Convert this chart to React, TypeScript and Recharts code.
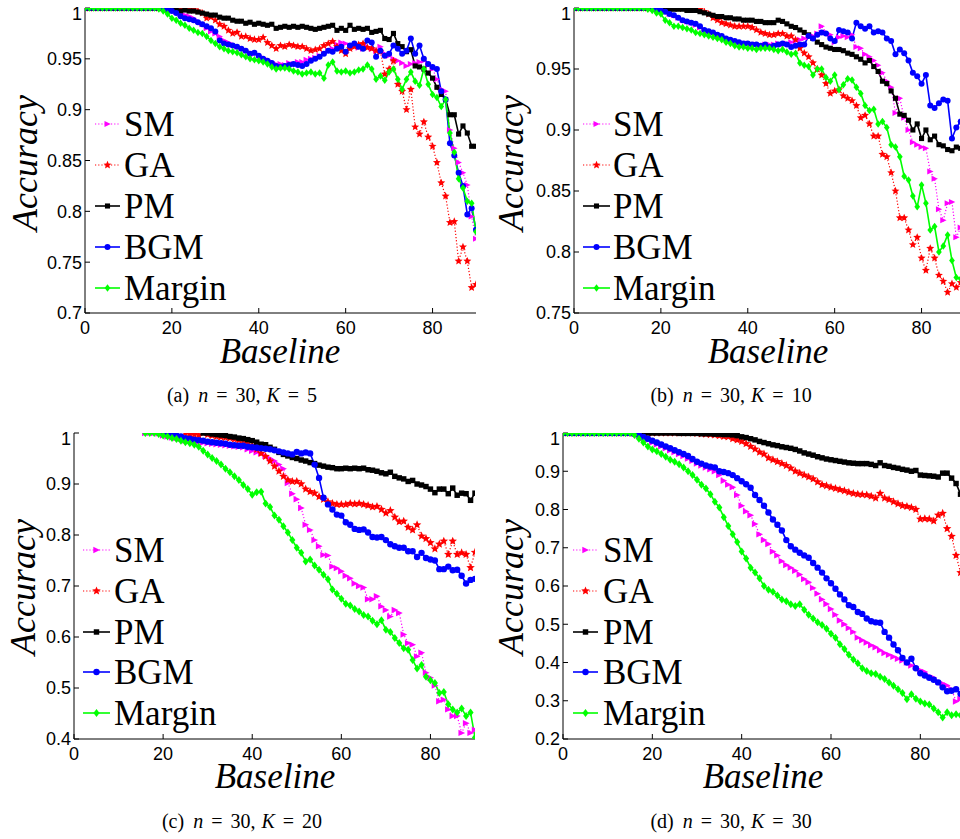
import { LineChart, Line, XAxis, YAxis } from "recharts";

// baseline index 0..90 (one sample per unit)
const BASELINE = Array.from({ length: 91 }, (_, i) => i);
const X_TICKS = [0, 20, 40, 60, 80];

// ---------- (a) n = 30, K = 5 ----------
const SM_A = [
  1, 1, 1, 1, 1, 1, 1, 1, 1, 1,
  1, 1, 1, 1, 1, 1, 1, 1, 1, 0.999,
  0.997, 0.996, 0.994, 0.993, 0.992, 0.99, 0.987, 0.984, 0.98, 0.977,
  0.975, 0.972, 0.968, 0.966, 0.964, 0.962, 0.96, 0.958, 0.956, 0.955,
  0.953, 0.951, 0.949, 0.947, 0.945, 0.945, 0.944, 0.946, 0.945, 0.947,
  0.947, 0.949, 0.95, 0.951, 0.953, 0.955, 0.958, 0.96, 0.964, 0.966,
  0.965, 0.963, 0.962, 0.961, 0.96, 0.962, 0.96, 0.958, 0.962, 0.955,
  0.953, 0.95, 0.948, 0.946, 0.943, 0.945, 0.946, 0.947, 0.948, 0.944,
  0.94, 0.93, 0.92, 0.918, 0.88, 0.862, 0.848, 0.838, 0.826, 0.795,
  0.773,
];
const GA_A = [
  1, 1, 1, 1, 1, 1, 1, 1, 1, 1,
  1, 1, 1, 1, 1, 1, 1, 1, 1, 1,
  1, 1, 1, 0.999, 0.999, 0.999, 0.997, 0.995, 0.99, 0.991,
  0.988, 0.984, 0.982, 0.978, 0.975, 0.976, 0.972, 0.972, 0.97, 0.969,
  0.969, 0.971, 0.966, 0.963, 0.96, 0.963, 0.962, 0.964, 0.963, 0.962,
  0.962, 0.96, 0.958, 0.959, 0.96, 0.963, 0.965, 0.967, 0.962, 0.958,
  0.955, 0.96, 0.962, 0.964, 0.965, 0.961, 0.96, 0.958, 0.957, 0.935,
  0.94, 0.948, 0.925, 0.918, 0.9, 0.92, 0.883, 0.876, 0.888, 0.873,
  0.864, 0.848, 0.828, 0.815, 0.789, 0.79, 0.751, 0.765, 0.751, 0.725,
  0.728,
];
const PM_A = [
  1, 1, 1, 1, 1, 1, 1, 1, 1, 1,
  1, 1, 1, 1, 1, 1, 1, 1, 1, 0.999,
  0.998, 0.998, 0.997, 0.998, 0.997, 0.997, 0.996, 0.995, 0.994, 0.993,
  0.993, 0.991, 0.99, 0.99, 0.988, 0.987, 0.987, 0.985, 0.986, 0.984,
  0.985, 0.984, 0.983, 0.984, 0.98, 0.981, 0.982, 0.981, 0.982, 0.981,
  0.982, 0.981, 0.98, 0.979, 0.98, 0.981, 0.982, 0.983, 0.978, 0.98,
  0.978, 0.983, 0.979, 0.98, 0.979, 0.98, 0.976, 0.977, 0.978, 0.97,
  0.969, 0.975, 0.965, 0.962, 0.957, 0.959, 0.943, 0.942, 0.94, 0.936,
  0.931, 0.922, 0.915, 0.91, 0.895, 0.895, 0.876, 0.884, 0.877, 0.864,
  0.864,
];
const BGM_A = [
  1, 1, 1, 1, 1, 1, 1, 1, 1, 1,
  1, 1, 1, 1, 1, 1, 1, 1, 1, 0.999,
  0.997, 0.995, 0.992, 0.99, 0.989, 0.988, 0.986, 0.984, 0.982, 0.98,
  0.977, 0.968, 0.965, 0.964, 0.963, 0.962, 0.96, 0.958, 0.955, 0.956,
  0.953, 0.95, 0.948, 0.946, 0.943, 0.942, 0.943, 0.944, 0.945, 0.944,
  0.943, 0.945, 0.948, 0.95, 0.952, 0.955, 0.958, 0.957, 0.96, 0.962,
  0.957, 0.963, 0.965, 0.962, 0.96, 0.968, 0.966, 0.952, 0.958, 0.953,
  0.955, 0.963, 0.96, 0.955, 0.958, 0.97, 0.955, 0.963, 0.95, 0.945,
  0.942, 0.94, 0.918, 0.91, 0.867, 0.855, 0.838, 0.825, 0.797, 0.803,
  0.782,
];
const MARGIN_A = [
  1, 1, 1, 1, 1, 1, 1, 1, 1, 1,
  1, 1, 1, 1, 1, 1, 1, 0.999, 0.997, 0.994,
  0.99, 0.988, 0.985, 0.983, 0.98, 0.978, 0.976, 0.975, 0.972, 0.968,
  0.965, 0.962, 0.96, 0.958, 0.957, 0.956, 0.954, 0.952, 0.95, 0.949,
  0.948, 0.947, 0.945, 0.942, 0.94, 0.941, 0.941, 0.94, 0.938, 0.937,
  0.935, 0.936, 0.937, 0.935, 0.936, 0.931, 0.944, 0.947, 0.938, 0.937,
  0.938, 0.936, 0.937, 0.939, 0.94, 0.944, 0.94, 0.93, 0.933, 0.929,
  0.937, 0.94, 0.93, 0.92, 0.93, 0.937, 0.928, 0.924, 0.94, 0.925,
  0.915, 0.912, 0.903, 0.91, 0.877, 0.858, 0.832, 0.823, 0.81, 0.808,
  0.78,
];

// ---------- (b) n = 30, K = 10 ----------
const SM_B = [
  1, 1, 1, 1, 1, 1, 1, 1, 1, 1,
  1, 1, 1, 1, 1, 1, 1, 1, 1, 0.999,
  0.998, 0.997, 0.995, 0.994, 0.992, 0.99, 0.989, 0.988, 0.986, 0.984,
  0.982, 0.981, 0.98, 0.978, 0.977, 0.975, 0.974, 0.973, 0.972, 0.971,
  0.971, 0.97, 0.97, 0.969, 0.97, 0.97, 0.97, 0.971, 0.97, 0.971,
  0.972, 0.973, 0.974, 0.975, 0.976, 0.977, 0.979, 0.985, 0.98, 0.978,
  0.972, 0.976, 0.977, 0.976, 0.978, 0.968, 0.967, 0.962, 0.96, 0.957,
  0.953, 0.947, 0.94, 0.935, 0.914, 0.926, 0.91, 0.9, 0.89, 0.888,
  0.886, 0.885, 0.866, 0.86, 0.835, 0.826, 0.84, 0.841, 0.812, 0.82,
  0.822,
];
const GA_B = [
  1, 1, 1, 1, 1, 1, 1, 1, 1, 1,
  1, 1, 1, 1, 1, 1, 1, 1, 1, 1,
  1, 1, 1, 1, 1, 1, 1, 1, 1, 0.999,
  0.997, 0.995, 0.992, 0.99, 0.988, 0.987, 0.986, 0.985, 0.985, 0.985,
  0.985, 0.984, 0.982, 0.98, 0.979, 0.978, 0.978, 0.979, 0.979, 0.977,
  0.977, 0.974, 0.967, 0.963, 0.96, 0.955, 0.95, 0.945, 0.938, 0.93,
  0.932, 0.933, 0.928, 0.926, 0.924, 0.92, 0.91, 0.912, 0.905, 0.895,
  0.895, 0.88, 0.878, 0.865, 0.85, 0.828, 0.828, 0.818, 0.806, 0.812,
  0.795, 0.785, 0.803, 0.795, 0.781, 0.776, 0.767, 0.774, 0.771, 0.775,
  0.772,
];
const PM_B = [
  1, 1, 1, 1, 1, 1, 1, 1, 1, 1,
  1, 1, 1, 1, 1, 1, 1, 1, 1, 1,
  0.999, 0.999, 0.999, 0.999, 0.999, 0.999, 0.998, 0.998, 0.998, 0.997,
  0.996, 0.995, 0.994, 0.993, 0.993, 0.992, 0.992, 0.991, 0.991, 0.99,
  0.99, 0.99, 0.989, 0.989, 0.988, 0.988, 0.988, 0.99, 0.989, 0.987,
  0.985, 0.984, 0.982, 0.98, 0.978, 0.975, 0.972, 0.97, 0.968, 0.967,
  0.966, 0.966, 0.965, 0.963, 0.962, 0.96, 0.958, 0.955, 0.957, 0.952,
  0.948, 0.94, 0.938, 0.932, 0.926, 0.913, 0.912, 0.908, 0.9, 0.905,
  0.893, 0.9, 0.892, 0.895, 0.888, 0.887, 0.884, 0.883, 0.886, 0.885,
  0.886,
];
const BGM_B = [
  1, 1, 1, 1, 1, 1, 1, 1, 1, 1,
  1, 1, 1, 1, 1, 1, 1, 1, 1, 0.999,
  0.998, 0.997, 0.995, 0.994, 0.992, 0.99, 0.989, 0.988, 0.987, 0.985,
  0.982, 0.981, 0.98, 0.978, 0.977, 0.975, 0.974, 0.973, 0.972, 0.971,
  0.971, 0.97, 0.97, 0.969, 0.97, 0.968, 0.969, 0.97, 0.971, 0.97,
  0.968, 0.969, 0.97, 0.97, 0.977, 0.975, 0.978, 0.98, 0.979, 0.975,
  0.973, 0.982, 0.981, 0.98, 0.975, 0.988, 0.985, 0.983, 0.985, 0.98,
  0.981, 0.98, 0.975, 0.973, 0.962, 0.966, 0.963, 0.957, 0.947, 0.944,
  0.938, 0.945, 0.92, 0.918, 0.922, 0.925, 0.924, 0.893, 0.902, 0.907,
  0.91,
];
const MARGIN_B = [
  1, 1, 1, 1, 1, 1, 1, 1, 1, 1,
  1, 1, 1, 1, 1, 1, 1, 0.999, 0.998, 0.996,
  0.995, 0.99, 0.988, 0.985, 0.985, 0.984, 0.983, 0.982, 0.98, 0.979,
  0.978, 0.977, 0.976, 0.975, 0.974, 0.972, 0.971, 0.969, 0.968, 0.968,
  0.967, 0.967, 0.966, 0.967, 0.967, 0.967, 0.966, 0.965, 0.966, 0.964,
  0.962, 0.963, 0.955, 0.953, 0.952, 0.945, 0.95, 0.95, 0.943, 0.94,
  0.945, 0.933, 0.937, 0.942, 0.941, 0.935, 0.93, 0.92, 0.916, 0.917,
  0.905, 0.907, 0.902, 0.888, 0.886, 0.878, 0.862, 0.859, 0.846, 0.837,
  0.855, 0.84, 0.818, 0.821, 0.8, 0.805, 0.814, 0.793, 0.779, 0.778,
  0.778,
];

// ---------- (c) n = 30, K = 20 ----------
const SM_C = [
  null, null, null, null, null, null, null, null, null, null,
  null, null, null, null, null, null, 1, 1, 1, 0.999,
  0.995, 0.993, 0.991, 0.99, 0.988, 0.985, 0.984, 0.983, 0.982, 0.981,
  0.98, 0.979, 0.978, 0.977, 0.976, 0.975, 0.974, 0.973, 0.972, 0.968,
  0.965, 0.962, 0.96, 0.955, 0.95, 0.945, 0.938, 0.93, 0.902, 0.881,
  0.87, 0.853, 0.82, 0.81, 0.79, 0.778, 0.761, 0.76, 0.738, 0.735,
  0.729, 0.72, 0.715, 0.705, 0.7, 0.697, 0.674, 0.674, 0.68, 0.66,
  0.653, 0.64, 0.653, 0.647, 0.605, 0.588, 0.585, 0.562, 0.569, 0.53,
  0.52, 0.505, 0.474, 0.477, 0.458, 0.445, 0.445, 0.412, 0.431, 0.412,
  0.418,
];
const GA_C = [
  null, null, null, null, null, null, null, null, null, null,
  null, null, null, null, null, null, null, null, null, null,
  null, null, null, null, null, 1, 0.998, 0.997, 0.996, 1,
  0.997, 0.995, 0.993, 0.992, 0.991, 0.99, 0.988, 0.986, 0.985, 0.98,
  0.975, 0.968, 0.96, 0.954, 0.945, 0.935, 0.925, 0.915, 0.908, 0.905,
  0.905, 0.9, 0.89, 0.885, 0.882, 0.875, 0.87, 0.865, 0.862, 0.86,
  0.86, 0.86, 0.862, 0.861, 0.862, 0.86, 0.858, 0.855, 0.856, 0.85,
  0.843, 0.848, 0.835, 0.826, 0.827, 0.815, 0.81, 0.82, 0.798, 0.793,
  0.785, 0.773, 0.782, 0.788, 0.762, 0.788, 0.762, 0.765, 0.762, 0.736,
  0.766,
];
const PM_C = [
  null, null, null, null, null, null, null, null, null, null,
  null, null, null, null, null, null, null, null, null, null,
  null, null, null, null, null, null, null, null, null, 1,
  1, 0.998, 0.997, 0.996, 0.995, 0.993, 0.992, 0.99, 0.989, 0.987,
  0.985, 0.982, 0.978, 0.977, 0.972, 0.968, 0.962, 0.958, 0.955, 0.952,
  0.95, 0.947, 0.945, 0.942, 0.94, 0.937, 0.935, 0.933, 0.932, 0.93,
  0.93, 0.931, 0.93, 0.931, 0.93, 0.931, 0.928, 0.927, 0.925, 0.922,
  0.92, 0.923, 0.915, 0.912, 0.91, 0.905, 0.907, 0.9, 0.898, 0.895,
  0.89, 0.883, 0.89, 0.89, 0.881, 0.892, 0.878, 0.882, 0.881, 0.868,
  0.882,
];
const BGM_C = [
  null, null, null, null, null, null, null, null, null, null,
  null, null, null, null, null, null, null, null, null, null,
  1, 0.999, 0.997, 0.995, 0.993, 0.99, 0.989, 0.987, 0.986, 0.985,
  0.983, 0.982, 0.981, 0.98, 0.979, 0.977, 0.976, 0.975, 0.975, 0.973,
  0.972, 0.971, 0.97, 0.969, 0.968, 0.966, 0.964, 0.962, 0.96, 0.958,
  0.963, 0.96, 0.962, 0.96, 0.938, 0.912, 0.873, 0.86, 0.85, 0.84,
  0.838, 0.825, 0.82, 0.812, 0.81, 0.811, 0.805, 0.796, 0.795, 0.796,
  0.79, 0.782, 0.778, 0.775, 0.775, 0.768, 0.768, 0.757, 0.765, 0.755,
  0.752, 0.75, 0.733, 0.733, 0.738, 0.731, 0.732, 0.72, 0.705, 0.712,
  0.714,
];
const MARGIN_C = [
  null, null, null, null, null, null, null, null, null, null,
  null, null, null, null, null, null, 1, 1, 1, 0.998,
  0.995, 0.993, 0.99, 0.988, 0.985, 0.982, 0.98, 0.977, 0.973, 0.965,
  0.958, 0.951, 0.945, 0.938, 0.93, 0.923, 0.915, 0.908, 0.898, 0.89,
  0.879, 0.884, 0.885, 0.862, 0.855, 0.838, 0.83, 0.817, 0.805, 0.79,
  0.775, 0.765, 0.748, 0.752, 0.74, 0.732, 0.722, 0.713, 0.693, 0.685,
  0.675, 0.665, 0.662, 0.655, 0.65, 0.643, 0.64, 0.632, 0.625, 0.633,
  0.614, 0.61, 0.598, 0.588, 0.578, 0.575, 0.555, 0.538, 0.545, 0.522,
  0.515, 0.51, 0.49, 0.492, 0.468, 0.458, 0.452, 0.46, 0.445, 0.452,
  0.403,
];

// ---------- (d) n = 30, K = 30 ----------
const SM_D = [
  1, 1, 1, 1, 1, 1, 1, 1, 1, 1,
  1, 1, 1, 1, 1, 1, 0.998, 0.993, 0.988, 0.982,
  0.975, 0.97, 0.965, 0.96, 0.955, 0.95, 0.945, 0.94, 0.933, 0.927,
  0.92, 0.915, 0.91, 0.905, 0.9, 0.89, 0.875, 0.865, 0.858, 0.838,
  0.81, 0.795, 0.785, 0.762, 0.735, 0.72, 0.71, 0.69, 0.68, 0.665,
  0.655, 0.648, 0.64, 0.63, 0.618, 0.61, 0.595, 0.58, 0.565, 0.553,
  0.54, 0.525, 0.51, 0.5, 0.49, 0.48, 0.465, 0.458, 0.452, 0.445,
  0.44, 0.432, 0.425, 0.42, 0.415, 0.41, 0.405, 0.4, 0.392, 0.388,
  0.38, 0.375, 0.365, 0.36, 0.35, 0.345, 0.34, 0.33, 0.298, 0.305,
  0.3,
];
const GA_D = [
  1, 1, 1, 1, 1, 1, 1, 1, 1, 1,
  1, 1, 1, 1, 1, 1, 1, 1, 1, 1,
  1, 1, 1, 1, 1, 1, 1, 1, 1, 1,
  0.999, 0.998, 0.997, 0.996, 0.995, 0.993, 0.991, 0.99, 0.985, 0.982,
  0.978, 0.972, 0.965, 0.958, 0.95, 0.945, 0.935, 0.93, 0.925, 0.92,
  0.915, 0.908, 0.9, 0.895, 0.89, 0.885, 0.88, 0.872, 0.865, 0.862,
  0.858, 0.855, 0.852, 0.849, 0.845, 0.842, 0.84, 0.839, 0.838, 0.835,
  0.83, 0.842, 0.83, 0.826, 0.82, 0.815, 0.81, 0.808, 0.805, 0.8,
  0.775, 0.776, 0.775, 0.77, 0.785, 0.79, 0.75, 0.73, 0.68, 0.635,
  0.62,
];
const PM_D = [
  1, 1, 1, 1, 1, 1, 1, 1, 1, 1,
  1, 1, 1, 1, 1, 1, 1, 1, 1, 1,
  1, 1, 1, 1, 1, 1, 0.999, 0.999, 0.999, 0.999,
  0.999, 0.998, 0.998, 0.998, 0.997, 0.997, 0.996, 0.996, 0.995, 0.993,
  0.99, 0.988, 0.985, 0.982, 0.978, 0.975, 0.972, 0.969, 0.967, 0.964,
  0.962, 0.96, 0.957, 0.953, 0.948, 0.945, 0.942, 0.938, 0.935, 0.932,
  0.93, 0.928, 0.926, 0.924, 0.922, 0.921, 0.92, 0.92, 0.92, 0.918,
  0.915, 0.922, 0.915, 0.913, 0.91, 0.908, 0.905, 0.903, 0.9, 0.902,
  0.89, 0.889, 0.888, 0.887, 0.885, 0.895, 0.895, 0.882, 0.868, 0.84,
  0.81,
];
const BGM_D = [
  1, 1, 1, 1, 1, 1, 1, 1, 1, 1,
  1, 1, 1, 1, 1, 1, 0.998, 0.995, 0.99, 0.985,
  0.98, 0.975, 0.97, 0.965, 0.96, 0.955, 0.95, 0.945, 0.94, 0.932,
  0.925, 0.92, 0.915, 0.912, 0.91, 0.9, 0.898, 0.895, 0.89, 0.882,
  0.874, 0.866, 0.857, 0.838, 0.825, 0.81, 0.792, 0.774, 0.76, 0.745,
  0.72, 0.704, 0.695, 0.687, 0.68, 0.674, 0.66, 0.648, 0.635, 0.62,
  0.607, 0.593, 0.578, 0.565, 0.55, 0.545, 0.532, 0.527, 0.515, 0.508,
  0.505, 0.504, 0.48, 0.465, 0.447, 0.432, 0.412, 0.4, 0.41, 0.385,
  0.372, 0.366, 0.36, 0.355, 0.348, 0.335, 0.325, 0.326, 0.33, 0.318,
  0.31,
];
const MARGIN_D = [
  1, 1, 1, 1, 1, 1, 1, 1, 1, 1,
  1, 1, 1, 1, 1, 1, 0.995, 0.985, 0.975, 0.965,
  0.957, 0.952, 0.945, 0.938, 0.93, 0.925, 0.918, 0.91, 0.9, 0.89,
  0.878, 0.865, 0.855, 0.84, 0.82, 0.805, 0.78, 0.757, 0.735, 0.715,
  0.69, 0.672, 0.648, 0.635, 0.62, 0.6, 0.59, 0.585, 0.575, 0.565,
  0.56, 0.552, 0.548, 0.552, 0.538, 0.525, 0.515, 0.505, 0.498, 0.488,
  0.475, 0.465, 0.448, 0.435, 0.42, 0.408, 0.398, 0.385, 0.378, 0.372,
  0.37, 0.363, 0.357, 0.348, 0.339, 0.33, 0.32, 0.304, 0.317, 0.305,
  0.298, 0.293, 0.29, 0.28, 0.27, 0.256, 0.27, 0.262, 0.265, 0.262,
  0.265,
];

const Y_TICKS_A = [0.7, 0.75, 0.8, 0.85, 0.9, 0.95, 1];
const Y_TICKS_B = [0.75, 0.8, 0.85, 0.9, 0.95, 1];
const Y_TICKS_C = [0.4, 0.5, 0.6, 0.7, 0.8, 0.9, 1];
const Y_TICKS_D = [0.2, 0.3, 0.4, 0.5, 0.6, 0.7, 0.8, 0.9, 1];

const SANS = "'Liberation Sans', Arial, Helvetica, sans-serif";
const SERIF = "'Liberation Serif', 'Times New Roman', Times, serif";

type Shape = "tri" | "star" | "square" | "circle" | "diamond";

const SERIES: { key: string; color: string; shape: Shape; dotted: boolean }[] = [
  { key: "SM", color: "#FF00FF", shape: "tri", dotted: true },
  { key: "GA", color: "#FF0000", shape: "star", dotted: true },
  { key: "PM", color: "#000000", shape: "square", dotted: false },
  { key: "BGM", color: "#0000FF", shape: "circle", dotted: false },
  { key: "Margin", color: "#00FF00", shape: "diamond", dotted: false },
];

function Marker({ shape, color, cx, cy, r }: { shape: Shape; color: string; cx: number; cy: number; r: number }) {
  if (shape === "tri") {
    return <polygon points={`${cx - r},${cy - r} ${cx + r * 1.1},${cy} ${cx - r},${cy + r}`} fill={color} />;
  }
  if (shape === "square") {
    const s = r * 0.85;
    return <rect x={cx - s} y={cy - s} width={s * 2} height={s * 2} fill={color} />;
  }
  if (shape === "circle") {
    return <circle cx={cx} cy={cy} r={r} fill={color} />;
  }
  if (shape === "diamond") {
    return <polygon points={`${cx},${cy - r * 1.25} ${cx + r * 0.95},${cy} ${cx},${cy + r * 1.25} ${cx - r * 0.95},${cy}`} fill={color} />;
  }
  // five point star
  const R = r * 1.4;
  const ri = R * 0.45;
  const pts: string[] = [];
  for (let k = 0; k < 10; k++) {
    const a = -Math.PI / 2 + (k * Math.PI) / 5;
    const rr = k % 2 === 0 ? R : ri;
    pts.push(`${cx + rr * Math.cos(a)},${cy + rr * Math.sin(a)}`);
  }
  return <polygon points={pts.join(" ")} fill={color} />;
}

const makeDot = (shape: Shape, color: string, r: number) => (props: any) => {
  const { cx, cy, index } = props;
  if (cx == null || cy == null || Number.isNaN(cy) || props.value == null) {
    return <g key={`d-${index}`} />;
  }
  return (
    <g key={`d-${index}`}>
      <Marker shape={shape} color={color} cx={cx} cy={cy} r={r} />
    </g>
  );
};

type PanelCfg = {
  id: string;
  k: string;
  left: number;
  top: number;
  w: number;
  h: number;
  yMin: number;
  yTicks: number[];
  r: number;
  series: (number | null)[][];
  legend: { x1: number; x2: number; tx: number; rows: number[] };
  acc: [number, number];
  base: [number, number];
  cap: [number, number];
};

const PANELS: PanelCfg[] = [
  {
    id: "a", k: "5", left: 85, top: 8, w: 391, h: 305, yMin: 0.7, yTicks: Y_TICKS_A, r: 3,
    series: [SM_A, GA_A, PM_A, BGM_A, MARGIN_A],
    legend: { x1: 95, x2: 120, tx: 124, rows: [124, 165, 206, 247, 288] },
    acc: [37, 163], base: [280, 363], cap: [242, 402],
  },
  {
    id: "b", k: "10", left: 574, top: 8, w: 391, h: 305, yMin: 0.75, yTicks: Y_TICKS_B, r: 3,
    series: [SM_B, GA_B, PM_B, BGM_B, MARGIN_B],
    legend: { x1: 583, x2: 610, tx: 613, rows: [124, 165, 206, 247, 288] },
    acc: [523, 163], base: [768, 363], cap: [731, 402],
  },
  {
    id: "c", k: "20", left: 74, top: 433, w: 401, h: 306, yMin: 0.4, yTicks: Y_TICKS_C, r: 3.2,
    series: [SM_C, GA_C, PM_C, BGM_C, MARGIN_C],
    legend: { x1: 83, x2: 110, tx: 114, rows: [550, 591, 632, 672, 713] },
    acc: [35, 587], base: [275, 788], cap: [242, 828],
  },
  {
    id: "d", k: "30", left: 563, top: 433, w: 402, h: 306, yMin: 0.2, yTicks: Y_TICKS_D, r: 3.2,
    series: [SM_D, GA_D, PM_D, BGM_D, MARGIN_D],
    legend: { x1: 573, x2: 598, tx: 603, rows: [550, 591, 632, 672, 713] },
    acc: [523, 587], base: [763, 788], cap: [731, 828],
  },
];

const Y_AXIS_W = 60;
const X_AXIS_H = 30;
const PAD = 5;

function Panel({ cfg }: { cfg: PanelCfg }) {
  const data = BASELINE.map((x, i) => {
    const row: Record<string, number | null> = { x };
    SERIES.forEach((s, j) => {
      row[s.key] = cfg.series[j][i];
    });
    return row;
  });
  const tickStyle = { fill: "#000", fontSize: 18, fontFamily: SANS };
  return (
    <div style={{ position: "absolute", left: cfg.left - Y_AXIS_W, top: cfg.top - PAD }}>
      <LineChart
        width={Y_AXIS_W + cfg.w + PAD}
        height={PAD + cfg.h + X_AXIS_H}
        data={data}
        margin={{ top: PAD, right: PAD, bottom: 0, left: 0 }}
      >
        <XAxis
          dataKey="x"
          type="number"
          domain={[0, 90]}
          ticks={X_TICKS}
          height={X_AXIS_H}
          tickSize={-5}
          tickMargin={13}
          stroke="#000"
          tick={tickStyle}
          allowDataOverflow
        />
        <XAxis
          xAxisId="top"
          orientation="top"
          dataKey="x"
          type="number"
          domain={[0, 90]}
          ticks={X_TICKS}
          height={0}
          tickSize={-5}
          tickFormatter={() => ""}
          stroke="#000"
        />
        <YAxis
          type="number"
          domain={[cfg.yMin, 1]}
          ticks={cfg.yTicks}
          width={Y_AXIS_W}
          tickSize={-5}
          tickMargin={8}
          stroke="#000"
          tick={tickStyle}
          tickFormatter={(v: number) => String(v)}
          allowDataOverflow
        />
        <YAxis
          yAxisId="right"
          orientation="right"
          type="number"
          domain={[cfg.yMin, 1]}
          ticks={cfg.yTicks}
          width={0}
          tickSize={-5}
          tickFormatter={() => ""}
          stroke="#000"
        />
        {SERIES.map((s) => (
          <Line
            key={s.key}
            dataKey={s.key}
            type="linear"
            stroke={s.color}
            strokeWidth={s.dotted ? 1.2 : 1.6}
            strokeDasharray={s.dotted ? "1.2 2" : undefined}
            dot={makeDot(s.shape, s.color, cfg.r)}
            activeDot={false}
            connectNulls={false}
            isAnimationActive={false}
          />
        ))}
      </LineChart>
    </div>
  );
}

function Annotations({ cfg }: { cfg: PanelCfg }) {
  const { legend } = cfg;
  return (
    <g>
      {SERIES.map((s, i) => {
        const y = legend.rows[i];
        const mx = (legend.x1 + legend.x2) / 2;
        return (
          <g key={s.key}>
            <line
              x1={legend.x1}
              x2={legend.x2}
              y1={y}
              y2={y}
              stroke={s.color}
              strokeWidth={s.dotted ? 1.2 : 1.6}
              strokeDasharray={s.dotted ? "1.2 2" : undefined}
            />
            <Marker shape={s.shape} color={s.color} cx={mx} cy={y} r={cfg.r} />
            <text x={legend.tx} y={y + 11.5} fontSize={35} fontFamily={SERIF} fill="#000">
              {s.key}
            </text>
          </g>
        );
      })}
      <text
        x={cfg.acc[0]}
        y={cfg.acc[1]}
        transform={`rotate(-90 ${cfg.acc[0]} ${cfg.acc[1]})`}
        textAnchor="middle"
        fontSize={36}
        fontStyle="italic"
        fontFamily={SERIF}
        fill="#000"
      >
        Accuracy
      </text>
      <text
        x={cfg.base[0]}
        y={cfg.base[1]}
        textAnchor="middle"
        fontSize={35}
        fontStyle="italic"
        fontFamily={SERIF}
        fill="#000"
      >
        Baseline
      </text>
      <text x={cfg.cap[0]} y={cfg.cap[1]} textAnchor="middle" fontSize={20} fontFamily={SERIF} fill="#000">
        ({cfg.id})
        <tspan dx={9} fontStyle="italic">n</tspan>
        <tspan dx={8}>=</tspan>
        <tspan dx={8}>30,</tspan>
        <tspan dx={6} fontStyle="italic">K</tspan>
        <tspan dx={8}>=</tspan>
        <tspan dx={8}>{cfg.k}</tspan>
      </text>
    </g>
  );
}

export default function App() {
  return (
    <div
      style={{
        position: "absolute",
        left: 0,
        top: 0,
        width: 960,
        height: 839,
        overflow: "hidden",
        background: "#fff",
      }}
    >
      {PANELS.map((p) => (
        <Panel key={p.id} cfg={p} />
      ))}
      <svg width={960} height={839} style={{ position: "absolute", left: 0, top: 0, pointerEvents: "none" }}>
        {PANELS.map((p) => (
          <Annotations key={p.id} cfg={p} />
        ))}
      </svg>
    </div>
  );
}
